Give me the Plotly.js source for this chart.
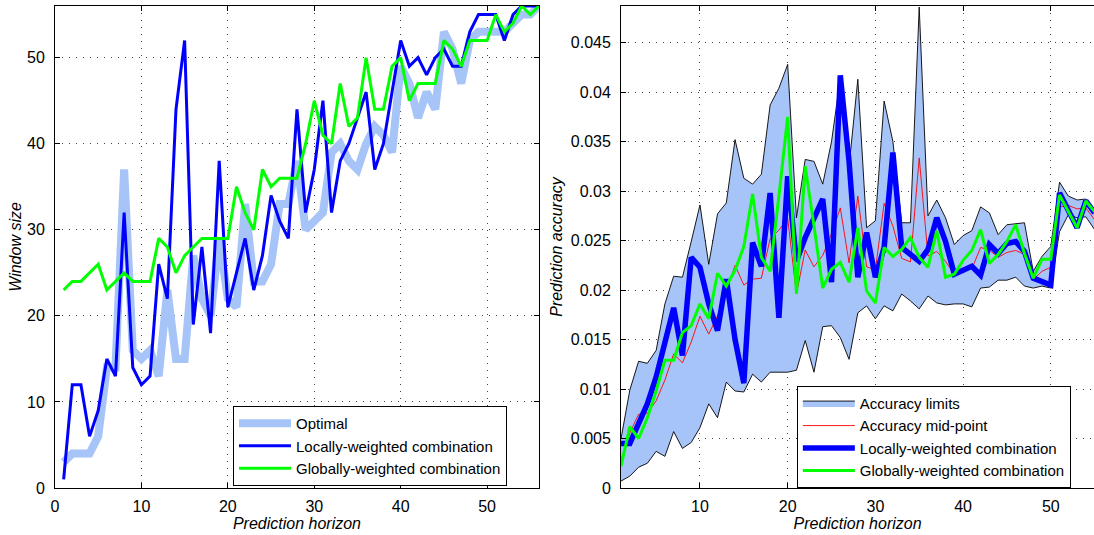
<!DOCTYPE html>
<html><head><meta charset="utf-8">
<script src="https://cdn.plot.ly/plotly-3.0.1.min.js"></script>
<style>html,body{margin:0;padding:0;background:#fff}#chart{width:1094px;height:535px}</style>
</head><body><div id="chart"></div>
<script>
// ---------- Left panel: window size ----------
const horizonL = [1,2,3,4,5,6,7,8,9,10,11,12,13,14,15,16,17,18,19,20,21,22,23,24,25,26,27,28,29,30,31,32,33,34,35,36,37,38,39,40,41,42,43,44,45,46,47,48,49,50,51,52,53,54,55,56];
const optimalL = [3,4,4,4,6,14,14,37,16,15,16,13,23,15,15,27,22,20,29,22,21,33,24,24,26,33,33,38,30,31,32,39,40,38,37,40,42,41,39,49,47,43,46,44,53,51,47,52,53,53,53,53,54,55,55,56];
const localL = [1,12,12,6,9,15,13,32,14,12,13,26,22,44,52,19,28,18,38,21,25,29,23,27,34,31,29,44,32,37,45,32,38,40,43,46,37,40,46,52,49,50,48,50,51,49,49,53,55,55,55,52,55,56,56,56];
const globalL = [23,24,24,25,26,23,24,25,24,24,24,29,28,25,27,28,29,29,29,29,35,32,30,37,35,36,36,36,40,45,41,40,47,42,43,50,44,44,49,50,45,47,47,47,52,51,49,52,52,52,55,53,54,56,55,56];

// ---------- Right panel: prediction accuracy ----------
const horizonR = [1,2,3,4,5,6,7,8,9,10,11,12,13,14,15,16,17,18,19,20,21,22,23,24,25,26,27,28,29,30,31,32,33,34,35,36,37,38,39,40,41,42,43,44,45,46,47,48,49,50,51,52,53,54,55];
const upperR = [0.0050,0.0099,0.0128,0.0126,0.0139,0.0186,0.0214,0.0213,0.0249,0.0286,0.0226,0.0277,0.0288,0.0352,0.0313,0.0307,0.0317,0.0387,0.0404,0.0428,0.0273,0.0332,0.0330,0.0307,0.0350,0.0414,0.0325,0.0413,0.0263,0.0270,0.0391,0.0350,0.0268,0.0268,0.0486,0.0275,0.0291,0.0273,0.0246,0.0255,0.0260,0.0284,0.0278,0.0256,0.0266,0.0267,0.0268,0.0219,0.0234,0.0244,0.0309,0.0295,0.0291,0.0292,0.0281];
const lowerR = [0.0007,0.0012,0.0021,0.0025,0.0037,0.0032,0.0057,0.0040,0.0046,0.0061,0.0085,0.0071,0.0107,0.0098,0.0097,0.0115,0.0107,0.0117,0.0117,0.0117,0.0119,0.0149,0.0117,0.0163,0.0164,0.0152,0.0130,0.0177,0.0184,0.0171,0.0184,0.0179,0.0196,0.0189,0.0181,0.0194,0.0187,0.0185,0.0186,0.0186,0.0183,0.0202,0.0203,0.0210,0.0210,0.0213,0.0204,0.0202,0.0204,0.0202,0.0259,0.0276,0.0273,0.0274,0.0261];
const midR = [0.00285,0.00555,0.00745,0.00755,0.0088,0.0109,0.01355,0.01265,0.01475,0.01735,0.01555,0.0174,0.01975,0.0225,0.0205,0.0211,0.0212,0.0252,0.02605,0.02725,0.0196,0.02405,0.02235,0.0235,0.0257,0.0283,0.02275,0.0295,0.02235,0.02205,0.02875,0.02645,0.0232,0.02285,0.03335,0.02345,0.0239,0.0229,0.0216,0.02205,0.02215,0.0243,0.02405,0.0233,0.0238,0.0240,0.0236,0.02105,0.0219,0.0223,0.0284,0.02855,0.0282,0.0283,0.0271];
const localR = [0.0045,0.0045,0.0065,0.0085,0.0112,0.0149,0.0182,0.0134,0.0233,0.0223,0.0186,0.0159,0.0211,0.0150,0.0106,0.0248,0.0224,0.0298,0.0172,0.0315,0.0229,0.0253,0.0273,0.0292,0.0208,0.0417,0.0330,0.0213,0.0258,0.0213,0.0243,0.0339,0.0243,0.0236,0.0229,0.0241,0.0273,0.0249,0.0216,0.0220,0.0224,0.0215,0.0246,0.0237,0.0247,0.0249,0.0239,0.0212,0.0209,0.0205,0.0298,0.0281,0.0263,0.0290,0.0278];
const globalR = [0.0022,0.0062,0.0050,0.0071,0.0098,0.0129,0.0129,0.0157,0.0164,0.0186,0.0171,0.0217,0.0204,0.0220,0.0244,0.0297,0.0233,0.0219,0.0295,0.0375,0.0196,0.0325,0.0265,0.0202,0.0221,0.0228,0.0208,0.0263,0.0199,0.0187,0.0243,0.0234,0.0241,0.0253,0.0233,0.0223,0.0260,0.0213,0.0216,0.0230,0.0240,0.0261,0.0227,0.0236,0.0249,0.0266,0.0237,0.0212,0.0231,0.0231,0.0296,0.0279,0.0263,0.0290,0.0279];

const ticksL = [0,10,20,30,40,50];
const ticksRx = [10,20,30,40,50];
const ticksRy = [0,0.005,0.01,0.015,0.02,0.025,0.03,0.035,0.04,0.045];
const ticksRyText = ['0','0.005','0.01','0.015','0.02','0.025','0.03','0.035','0.04','0.045'];

const LIGHT = 'rgb(166,196,248)';
const BLUE = 'rgb(0,0,255)';
const GREEN = 'rgb(0,255,0)';

const traces = [
  {x:horizonL, y:optimalL, type:'scatter', mode:'lines', name:'Optimal',
   line:{color:LIGHT, width:8}, xaxis:'x', yaxis:'y', legend:'legend'},
  {x:horizonL, y:localL, type:'scatter', mode:'lines', name:'Locally-weighted combination',
   line:{color:BLUE, width:3}, xaxis:'x', yaxis:'y', legend:'legend'},
  {x:horizonL, y:globalL, type:'scatter', mode:'lines', name:'Globally-weighted combination',
   line:{color:GREEN, width:3}, xaxis:'x', yaxis:'y', legend:'legend'},

  {x:horizonR, y:lowerR, type:'scatter', mode:'lines', name:'lower', showlegend:false,
   line:{color:'black', width:0.9}, xaxis:'x2', yaxis:'y2', legend:'legend2', hoverinfo:'skip'},
  {x:horizonR, y:upperR, type:'scatter', mode:'lines', name:'Accuracy limits', fill:'tonexty',
   fillcolor:LIGHT, line:{color:'black', width:0.9}, xaxis:'x2', yaxis:'y2', legend:'legend2'},
  {x:horizonR, y:midR, type:'scatter', mode:'lines', name:'Accuracy mid-point',
   line:{color:'rgb(255,0,0)', width:0.9}, xaxis:'x2', yaxis:'y2', legend:'legend2'},
  {x:horizonR, y:localR, type:'scatter', mode:'lines', name:'Locally-weighted combination',
   line:{color:BLUE, width:5.5}, xaxis:'x2', yaxis:'y2', legend:'legend2'},
  {x:horizonR, y:globalR, type:'scatter', mode:'lines', name:'Globally-weighted combination',
   line:{color:GREEN, width:3}, xaxis:'x2', yaxis:'y2', legend:'legend2'}
];

const axBase = {
  showline:true, linecolor:'black', linewidth:1,
  ticks:'inside', ticklen:5, tickcolor:'black', tickwidth:1,
  showgrid:true, gridcolor:'#444', gridwidth:1, griddash:'1px,6px',
  zeroline:false, tickfont:{size:16, color:'black'}
};

const layout = {
  width:1094, height:535,
  margin:{l:55, r:0, t:6, b:47},
  paper_bgcolor:'white', plot_bgcolor:'white',
  font:{family:'"Liberation Sans", Arial, Helvetica, sans-serif', size:16, color:'black'},
  showlegend:true,
  xaxis: Object.assign({}, axBase, {domain:[0,0.4658], range:[0,56], tickvals:ticksL, mirror:'ticks', ticklabelstandoff:4,
    title:{text:'<i>Prediction horizon</i>', font:{size:16}, standoff:3}}),
  yaxis: Object.assign({}, axBase, {domain:[0,1], range:[0,56], tickvals:ticksL, mirror:'ticks', ticklabelstandoff:6,
    title:{text:'<i>Window size</i>', font:{size:16}, standoff:1}}),
  xaxis2: Object.assign({}, axBase, {domain:[0.5448,1], range:[1,54.93], tickvals:ticksRx, mirror:'ticks', anchor:'y2', ticklabelstandoff:4,
    title:{text:'<i>Prediction horizon</i>', font:{size:16}, standoff:3}}),
  yaxis2: Object.assign({}, axBase, {domain:[0,1], range:[0,0.0487], tickvals:ticksRy, ticktext:ticksRyText, anchor:'x2', mirror:false, ticklabelstandoff:6,
    title:{text:'<i>Prediction accuracy</i>', font:{size:16}, standoff:4}}),
  legend:{x:0.1713, y:0.17, xanchor:'left', yanchor:'top', bgcolor:'white', bordercolor:'black', borderwidth:1,
    font:{size:15}, tracegroupgap:0, traceorder:'normal', itemwidth:52},
  legend2:{x:0.714, y:0.212, xanchor:'left', yanchor:'top', bgcolor:'white', bordercolor:'black', borderwidth:1,
    font:{size:15}, tracegroupgap:0, traceorder:'normal', itemwidth:52}
};

Plotly.newPlot('chart', traces, layout, {displayModeBar:false, staticPlot:true});
</script>
</body></html>
